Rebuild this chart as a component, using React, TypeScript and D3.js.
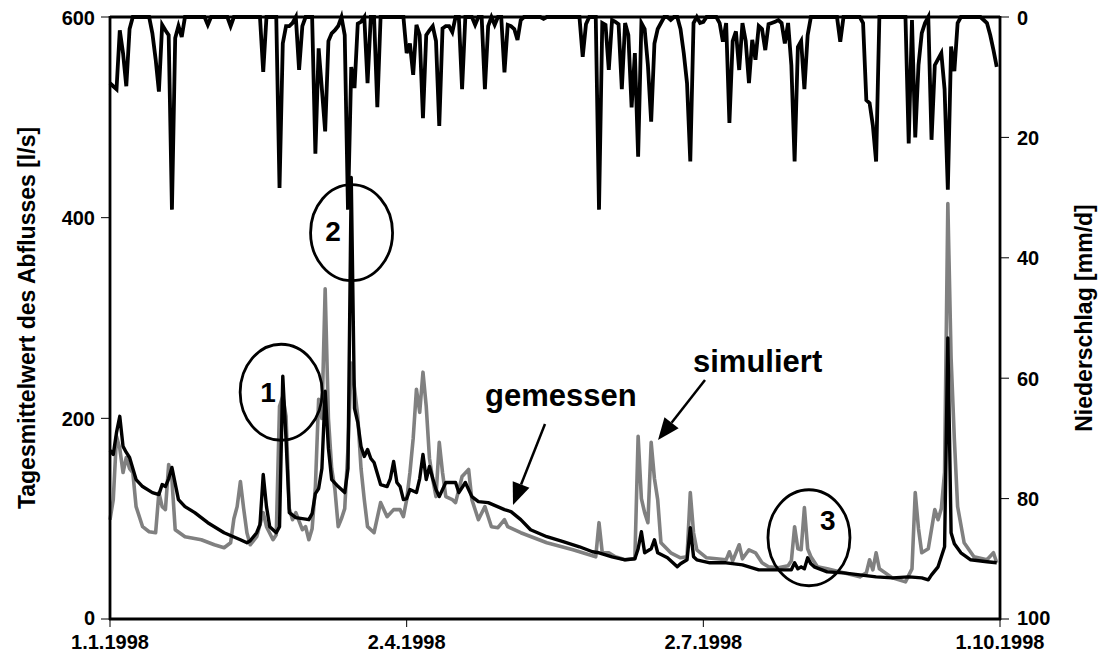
import React from "react";
import * as d3 from "d3";

// Niederschlag [mm/d], daily from 1.1.1998
const precip: number[] = [
  11, 11.5, 12, 2.2, 6, 11.5, 2, 0, 0, 0,
  0, 0, 0, 2.7, 7, 12.4, 1.3, 2.2, 3, 32,
  3.5, 1.5, 3.3, 0, 0, 0, 0, 0, 0, 0,
  1.3, 0, 0, 0, 0, 0, 0, 1.5, 0, 0,
  0, 0, 0, 0, 0, 0, 0, 9.1, 0, 0,
  0, 0, 28.4, 4.4, 1.5, 1.5, 1, 0, 8.8, 1.5,
  0, 0, 0, 22.7, 5.2, 12, 19, 4, 2.7, 2.2,
  1.5, 0, 3, 32, 8.3, 11.8, 1.1, 0.8, 0, 11,
  0, 0, 15, 0, 0, 0, 0, 0, 0, 0,
  0, 6, 4.4, 9.6, 1.3, 3, 16.8, 3, 2.2, 1.5,
  4, 18.1, 1.9, 1.5, 1.5, 2.5, 0, 0, 12, 0,
  0, 0, 1.3, 0, 0, 12, 1.5, 0, 1.3, 0,
  0, 9.2, 1.3, 1.5, 2, 3.8, 0.5, 0, 0, 0,
  0, 0, 0, 0.3, 0, 0, 0, 0, 0, 0,
  0, 0, 0, 0, 0, 6.6, 1.2, 0, 0, 0,
  32, 1, 1.3, 8.8, 0.5, 0.8, 1.2, 12, 1, 3,
  15, 6, 23.2, 1, 2, 8, 17.4, 4.4, 2, 1,
  0, 0, 0.5, 0, 0, 2, 6, 11, 24, 1,
  0, 1, 0.8, 0, 0, 0, 0, 1, 4.1, 1,
  17.6, 4, 2.4, 8.8, 1, 4, 11, 3.8, 7.1, 1.5,
  2, 5.5, 1.2, 1, 0.8, 0.5, 1, 4.4, 1, 8,
  24, 5, 4, 12, 3, 0, 0, 0, 0, 0,
  0, 0, 0, 0, 4.1, 0, 0, 0, 0, 0,
  0, 1, 13.8, 14.3, 18, 24, 0, 0, 0, 0,
  0, 0, 0, 0, 0, 21, 0.5, 20, 8, 2.7,
  1, 0, 20.4, 8, 7, 6, 12, 28.7, 4.9, 9,
  1, 0, 0, 0, 0, 0, 0, 0, 0.5, 1,
  3, 5.5, 8.3,
];

// gemessen [day, l/s]
const measured: [number, number][] = [
  [0, 168], [1, 164], [2, 186], [3, 202], [4, 172], [5, 166], [6, 161], [8, 139], [10, 132], [13, 126],
  [15, 124], [16, 134], [17, 132], [18, 140], [19, 151], [20, 135], [21, 119], [23, 112], [26, 106], [30, 96],
  [35, 86], [40, 79], [42, 76], [43, 78], [45, 86], [46, 94], [47, 144], [48, 112], [49, 92], [51, 86],
  [52, 92], [53, 242], [54, 179], [55, 106], [57, 101], [61, 99], [62, 105], [63, 125], [64, 130], [65, 150],
  [66, 227], [67, 170], [68, 139], [70, 132], [72, 126], [73, 150], [74, 440], [75, 210], [76, 196], [77, 172],
  [78, 162], [79, 169], [80, 160], [81, 156], [83, 134], [85, 132], [86, 140], [87, 157], [88, 136], [89, 132],
  [90, 119], [91, 120], [92, 129], [94, 126], [95, 140], [96, 164], [97, 139], [98, 152], [99, 140], [100, 129],
  [101, 122], [103, 136], [106, 136], [107, 126], [109, 136], [111, 122], [113, 117], [116, 116], [121, 109], [123, 107],
  [126, 99], [129, 89], [134, 82], [139, 77], [144, 72], [148, 67], [150, 66], [154, 62], [158, 59], [161, 60],
  [162, 70], [163, 87], [164, 66], [166, 70], [167, 79], [168, 66], [171, 61], [174, 52], [175, 55], [177, 59],
  [178, 91], [179, 62], [180, 59], [184, 56], [189, 56], [194, 54], [199, 49], [204, 49], [209, 49], [210, 56],
  [211, 50], [212, 52], [213, 50], [214, 61], [215, 55], [216, 52], [220, 47], [225, 46], [230, 44], [235, 42],
  [240, 41], [245, 42], [249, 41], [251, 39], [252, 44], [254, 52], [256, 72], [257, 280], [258, 86], [259, 75],
  [261, 66], [264, 59], [269, 57], [272, 56],
];

// simuliert [day, l/s]
const simulated: [number, number][] = [
  [0, 99], [1, 119], [2, 182], [3, 170], [4, 146], [5, 161], [6, 150], [7, 146], [8, 112], [10, 92],
  [12, 87], [14, 86], [15, 126], [16, 112], [17, 109], [18, 154], [19, 139], [20, 89], [23, 82], [28, 79],
  [32, 74], [35, 71], [37, 76], [38, 100], [39, 112], [40, 137], [41, 110], [42, 86], [43, 74], [45, 82],
  [47, 106], [48, 92], [50, 79], [51, 84], [52, 212], [53, 222], [54, 202], [55, 110], [56, 99], [57, 106],
  [59, 89], [60, 92], [61, 79], [62, 90], [63, 132], [64, 219], [65, 200], [66, 329], [67, 200], [68, 150],
  [69, 129], [70, 92], [71, 100], [72, 110], [73, 170], [74, 255], [75, 230], [76, 202], [77, 150], [78, 119],
  [79, 92], [81, 86], [83, 116], [85, 102], [87, 109], [89, 109], [90, 102], [91, 119], [92, 146], [93, 180],
  [94, 229], [95, 206], [96, 246], [97, 212], [98, 160], [99, 139], [100, 122], [101, 176], [102, 146], [103, 122],
  [105, 119], [106, 116], [108, 142], [110, 149], [111, 119], [113, 99], [115, 112], [117, 92], [119, 91], [121, 99],
  [122, 92], [126, 86], [134, 76], [142, 69], [149, 62], [150, 96], [151, 66], [153, 66], [155, 62], [158, 59],
  [161, 60], [162, 182], [163, 120], [164, 106], [165, 96], [166, 176], [167, 140], [168, 119], [169, 76], [172, 66],
  [175, 61], [177, 62], [178, 126], [179, 86], [180, 69], [183, 61], [189, 59], [190, 67], [191, 58], [193, 74],
  [194, 60], [196, 69], [198, 66], [200, 56], [202, 52], [205, 51], [208, 53], [209, 58], [210, 92], [211, 70],
  [212, 69], [213, 111], [214, 70], [215, 62], [217, 52], [220, 50], [225, 46], [230, 42], [232, 46], [233, 59],
  [234, 49], [235, 66], [236, 50], [240, 41], [244, 37], [246, 50], [247, 126], [248, 90], [249, 66], [251, 70],
  [253, 109], [254, 99], [255, 110], [256, 146], [257, 414], [258, 260], [259, 179], [260, 112], [262, 76], [265, 62],
  [269, 59], [271, 66], [272, 56],
];

const leftTicks = [0, 200, 400, 600];
const rightTicks = [0, 20, 40, 60, 80, 100];
const dateTickOffsets = [0, 91, 182, 273];

// annotation circles: [centerDay, centerValue, label, labelDay, labelBaselineValue]
const circles: [number, number, string, number, number][] = [
  [52.5, 226, "1", 48.5, 216],
  [74.1, 385, "2", 68.4, 377],
  [214.4, 81, "3", 220.2, 89],
];

const FONT = "'Liberation Sans', Arial, Helvetica, sans-serif";

export default function App() {
  const W = 1101, H = 667;
  const left = 110, right = 1000, top = 17, bottom = 619;
  const start = new Date(Date.UTC(1998, 0, 1));
  const dayDate = (d: number) => new Date(start.getTime() + d * 86400000);
  const x = d3.scaleUtc().domain([start, dayDate(273)]).range([left, right]);
  const yL = d3.scaleLinear().domain([0, 600]).range([bottom, top]);
  const yR = d3.scaleLinear().domain([0, 100]).range([top, bottom]);
  const fmt = d3.utcFormat("%-d.%-m.%Y");

  const qLine = d3.line<[number, number]>().x((d) => x(dayDate(d[0]))).y((d) => yL(d[1]));
  const pLine = d3.line<number>().x((_, i) => x(dayDate(i))).y((d) => yR(d));

  const rx = 41, ry = 48;

  const arrow = (x1: number, y1: number, x2: number, y2: number) => {
    const ang = Math.atan2(y2 - y1, x2 - x1);
    const L = 22, Wd = 9;
    const bx = x2 - L * Math.cos(ang), by = y2 - L * Math.sin(ang);
    const px = -Math.sin(ang) * Wd, py = Math.cos(ang) * Wd;
    return (
      <g>
        <line x1={x1} y1={y1} x2={bx} y2={by} stroke="#000" strokeWidth={2.5} />
        <path d={`M${x2},${y2}L${bx + px},${by + py}L${bx - px},${by - py}Z`} fill="#000" />
      </g>
    );
  };

  const TS = 20;

  return (
    <svg width={W} height={H} style={{ position: "absolute", left: 0, top: 0, background: "#fff" }} fontFamily={FONT}>
      {/* data */}
      <path d={qLine(simulated) || ""} fill="none" stroke="#808080" strokeWidth={3.6} strokeLinejoin="round" />
      <path d={qLine(measured) || ""} fill="none" stroke="#000" strokeWidth={3.4} strokeLinejoin="round" />
      <path d={pLine(precip) || ""} fill="none" stroke="#000" strokeWidth={3.8} strokeLinejoin="miter" />

      {/* axes */}
      <line x1={left} y1={top} x2={right} y2={top} stroke="#000" strokeWidth={2.8} />
      <line x1={left} y1={top - 1} x2={left} y2={bottom + 1} stroke="#000" strokeWidth={2.8} />
      <line x1={right} y1={top - 1} x2={right} y2={bottom + 1} stroke="#000" strokeWidth={2.8} />
      <line x1={left - 1} y1={bottom} x2={right + 1} y2={bottom} stroke="#000" strokeWidth={2.8} />

      {leftTicks.map((t) => (
        <g key={"l" + t}>
          <line x1={left - 9} x2={left} y1={yL(t)} y2={yL(t)} stroke="#000" strokeWidth={1} />
          <text x={left - 15} y={yL(t) + (t === 0 ? 6 : 7.5)} textAnchor="end" fontSize={TS} fontWeight="bold">{t}</text>
        </g>
      ))}
      {rightTicks.map((t) => (
        <g key={"r" + t}>
          <line x1={right} x2={right + 9} y1={yR(t)} y2={yR(t)} stroke="#000" strokeWidth={1} />
          <text x={right + 17} y={yR(t) + (t === 100 ? 6 : 7.5)} textAnchor="start" fontSize={TS} fontWeight="bold">{t}</text>
        </g>
      ))}
      {dateTickOffsets.map((o) => (
        <g key={"d" + o}>
          <line x1={x(dayDate(o))} x2={x(dayDate(o))} y1={bottom} y2={bottom + 8} stroke="#000" strokeWidth={1} />
          <text x={x(dayDate(o))} y={bottom + 30} textAnchor="middle" fontSize={TS} fontWeight="bold">{fmt(dayDate(o))}</text>
        </g>
      ))}

      <text transform={`translate(29,${(top + bottom) / 2}) rotate(-90)`} textAnchor="middle" dominantBaseline="middle" fontSize={23} fontWeight="bold">
        Tagesmittelwert des Abflusses [l/s]
      </text>
      <text transform={`translate(1086,${(top + bottom) / 2}) rotate(-90)`} textAnchor="middle" dominantBaseline="middle" fontSize={23} fontWeight="bold">
        Niederschlag [mm/d]
      </text>

      {/* annotations */}
      {circles.map(([cd, cv, lab, ld, lv]) => (
        <g key={lab}>
          <ellipse cx={x(dayDate(cd))} cy={yL(cv)} rx={rx} ry={ry} fill="none" stroke="#000" strokeWidth={2.8} />
          <text x={x(dayDate(ld))} y={yL(lv)} textAnchor="middle" fontSize={28} fontWeight="bold">{lab}</text>
        </g>
      ))}

      <text x={485} y={406} fontSize={31} fontWeight="bold">gemessen</text>
      {arrow(545, 424, 513, 505)}
      <text x={693} y={372} fontSize={31} fontWeight="bold">simuliert</text>
      {arrow(705, 380, 658, 440)}
    </svg>
  );
}
